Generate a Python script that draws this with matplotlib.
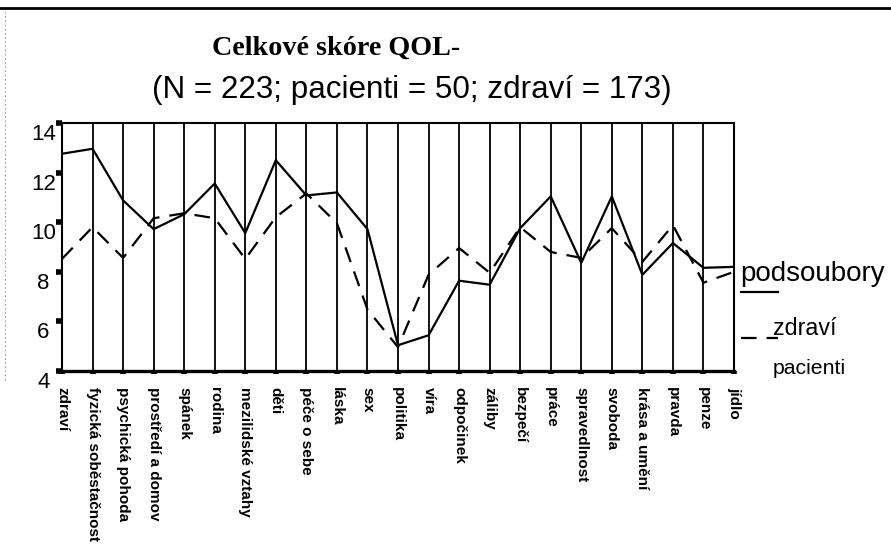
import numpy as np
import matplotlib.pyplot as plt
from matplotlib.lines import Line2D
from matplotlib.transforms import ScaledTranslation

# Categories (QOL domains)
categories = ["zdraví", "fyzická soběstačnost", "psychická pohoda", "prostředí a domov",
              "spánek", "rodina", "mezilidské vztahy", "děti", "péče o sebe", "láska",
              "sex", "politika", "víra", "odpočinek", "záliby", "bezpečí", "práce",
              "spravedlnost", "svoboda", "krása a umění", "pravda", "penze", "jídlo"]

# Mean scores
zdravi = [12.76, 12.96, 10.88, 9.72, 10.32, 11.56, 9.56, 12.5, 11.08, 11.2, 9.72,
          5.04, 5.44, 7.64, 7.48, 9.76, 11.04, 8.36, 11.04, 7.88, 9.16, 8.16, 8.2]
pacienti = [8.52, 9.8, 8.56, 10.16, 10.36, 10.16, 8.52, 10.2, 11.16, 9.96, 6.48,
            4.96, 7.88, 8.96, 7.96, 9.8, 8.8, 8.56, 9.76, 8.4, 9.88, 7.56, 8.0]

yticks = [4, 6, 8, 10, 12, 14]

sans = ["Liberation Sans", "DejaVu Sans"]
serif = ["Liberation Serif", "DejaVu Serif"]

W, H = 891, 544


def fx(px):
    return px / W


def fy(py):
    return 1 - py / H


fig = plt.figure(figsize=(W / 100, H / 100), dpi=100)
ax = fig.add_axes([fx(62), fy(371), fx(734) - fx(62), fy(123) - fy(371)])

x = np.arange(len(categories))

# vertical lines at every category
for xi in x:
    ax.axvline(xi, color="black", lw=1.3, zorder=1)

ax.plot(x, zdravi, color="black", lw=1.6, zorder=3)
ax.plot(x, pacienti, color="black", lw=1.6, dashes=(7, 4.5), zorder=3)

ax.set_xlim(0, len(categories) - 1)
ax.set_ylim(4, 14)
ax.set_yticks(yticks)
ax.set_yticklabels([str(v) for v in yticks], fontsize=16, family=sans, ha="center")
ax.tick_params(axis="y", direction="out", length=4, width=4, pad=9.5)
# labels sit a little lower than the ticks in the original
shift = ScaledTranslation(0, -0.09, fig.dpi_scale_trans)
for lab in ax.get_yticklabels():
    lab.set_transform(lab.get_transform() + shift)

ax.set_xticks(x)
ax.set_xticklabels(categories, rotation=270, fontsize=11, family=sans,
                   fontweight="bold", va="top", ha="center")
ax.tick_params(axis="x", direction="out", length=2.5, width=4, pad=9)

for s in ["top", "left", "right"]:
    ax.spines[s].set_linewidth(1.5)
ax.spines["bottom"].set_linewidth(2.4)

r = fig.canvas.get_renderer()


def fit(t, target_w):
    w = t.get_window_extent(r).width
    t.set_fontsize(t.get_fontsize() * target_w / w)


# titles
t1 = fig.text(fx(212), fy(48), "Celkové skóre QOL-", fontsize=19, fontweight="bold",
              family=serif, ha="left", va="center")
fit(t1, 248)
t2 = fig.text(fx(152), fy(90), "(N = 223; pacienti = 50; zdraví = 173)", fontsize=21,
              family=sans, ha="left", va="center")
fit(t2, 518)

# legend drawn by hand
l1 = fig.text(fx(740), fy(281), "podsoubory", fontsize=19, family=sans,
              ha="left", va="baseline")
fit(l1, 145)
fig.add_artist(Line2D([fx(741), fx(778)], [fy(292), fy(292)], color="black", lw=1.6))
l2 = fig.text(fx(773), fy(335), "zdraví", fontsize=14, family=sans,
              ha="left", va="baseline")
fit(l2, 64)
fig.add_artist(Line2D([fx(741), fx(778)], [fy(338), fy(338)], color="black", lw=1.6,
                      dashes=(7, 4.5)))
l3 = fig.text(fx(773), fy(374), "pacienti", fontsize=14, family=sans,
              ha="left", va="baseline")
fit(l3, 74)

# page border line at top and scan edge at left
fig.add_artist(Line2D([0, 1], [fy(8), fy(8)], color="black", lw=2))
fig.add_artist(Line2D([fx(5), fx(5)], [fy(380), fy(12)], color="gray", lw=0.6,
                      dashes=(2, 3)))

fig.savefig("out.png", dpi=100)
